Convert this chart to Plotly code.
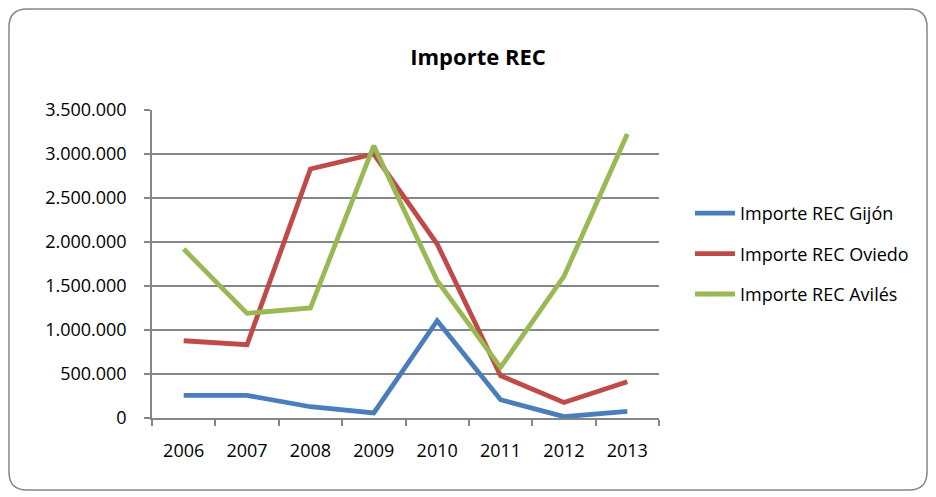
import plotly.graph_objects as go

years = ["2006", "2007", "2008", "2009", "2010", "2011", "2012", "2013"]
gijon = [257000, 257000, 128000, 57000, 1106000, 208000, 15000, 75000]
oviedo = [878000, 833000, 2830000, 3000000, 1977000, 481000, 177000, 412000]
aviles = [1920000, 1189000, 1250000, 3094000, 1560000, 575000, 1609000, 3227000]

series_names = ["Importe REC Gijón", "Importe REC Oviedo", "Importe REC Avilés"]
colors = ["#4A7EBB", "#BE4B48", "#98B954"]

FONT = "Open Sans"
GRID = "#868686"

fig = go.Figure()
for i, (name, vals, col) in enumerate(zip(series_names, [gijon, oviedo, aviles], colors)):
    fig.add_trace(go.Scatter(x=years, y=vals, name=name, mode="lines",
                             legendgroup=f"g{i}",
                             line=dict(color=col, width=4.8)))

# the page has an 8px body margin, so the figure is sized to sit inside it
W, H = 920, 483
l, r, t, b = 144, 269, 102, 73
pw, ph = W - l - r, H - t - b


def px(x):
    return (x - l) / pw


def py(y):
    return (H - b - y) / ph


# rounded outer frame
x0, x1, y0, y1, rad = 1, W - 1, 1, H - 1, 18
path = (
    f"M {px(x0 + rad)} {py(y0)} L {px(x1 - rad)} {py(y0)} "
    f"Q {px(x1)} {py(y0)} {px(x1)} {py(y0 + rad)} "
    f"L {px(x1)} {py(y1 - rad)} Q {px(x1)} {py(y1)} {px(x1 - rad)} {py(y1)} "
    f"L {px(x0 + rad)} {py(y1)} Q {px(x0)} {py(y1)} {px(x0)} {py(y1 - rad)} "
    f"L {px(x0)} {py(y0 + rad)} Q {px(x0)} {py(y0)} {px(x0 + rad)} {py(y0)} Z"
)
fig.add_shape(type="path", path=path, xref="paper", yref="paper",
              line=dict(color="#868686", width=1.5), layer="below")

fig.update_layout(
    width=W, height=H,
    margin=dict(l=l, r=r, t=t, b=b),
    paper_bgcolor="white", plot_bgcolor="white",
    separators=",.",
    font=dict(family=FONT, size=18, color="black"),
    title=dict(text="<b>Importe REC</b>", x=470 / W, xanchor="center",
               y=1 - 49 / H, yanchor="middle",
               font=dict(family=FONT, size=22, color="black")),
    legend=dict(x=px(682), xanchor="left", y=py(246), yanchor="middle",
                font=dict(family=FONT, size=18), traceorder="grouped",
                tracegroupgap=14, itemwidth=40, bgcolor="rgba(0,0,0,0)"),
    showlegend=True,
)
fig.update_xaxes(type="category", range=[-0.5, 7.5], showgrid=False,
                 showline=True, linecolor=GRID, linewidth=1.5,
                 ticks="outside", tickson="boundaries", ticklen=6,
                 tickcolor=GRID, tickwidth=1.5, ticklabelstandoff=16,
                 fixedrange=True)
fig.update_yaxes(range=[0, 3500000], dtick=500000, tickformat=",d",
                 showgrid=True, gridcolor=GRID, gridwidth=1.5,
                 showline=True, linecolor=GRID, linewidth=1.5,
                 ticks="outside", ticklen=6, tickcolor=GRID, tickwidth=1.5,
                 ticklabelstandoff=14, zeroline=False, fixedrange=True)

fig.write_html("out.html")
